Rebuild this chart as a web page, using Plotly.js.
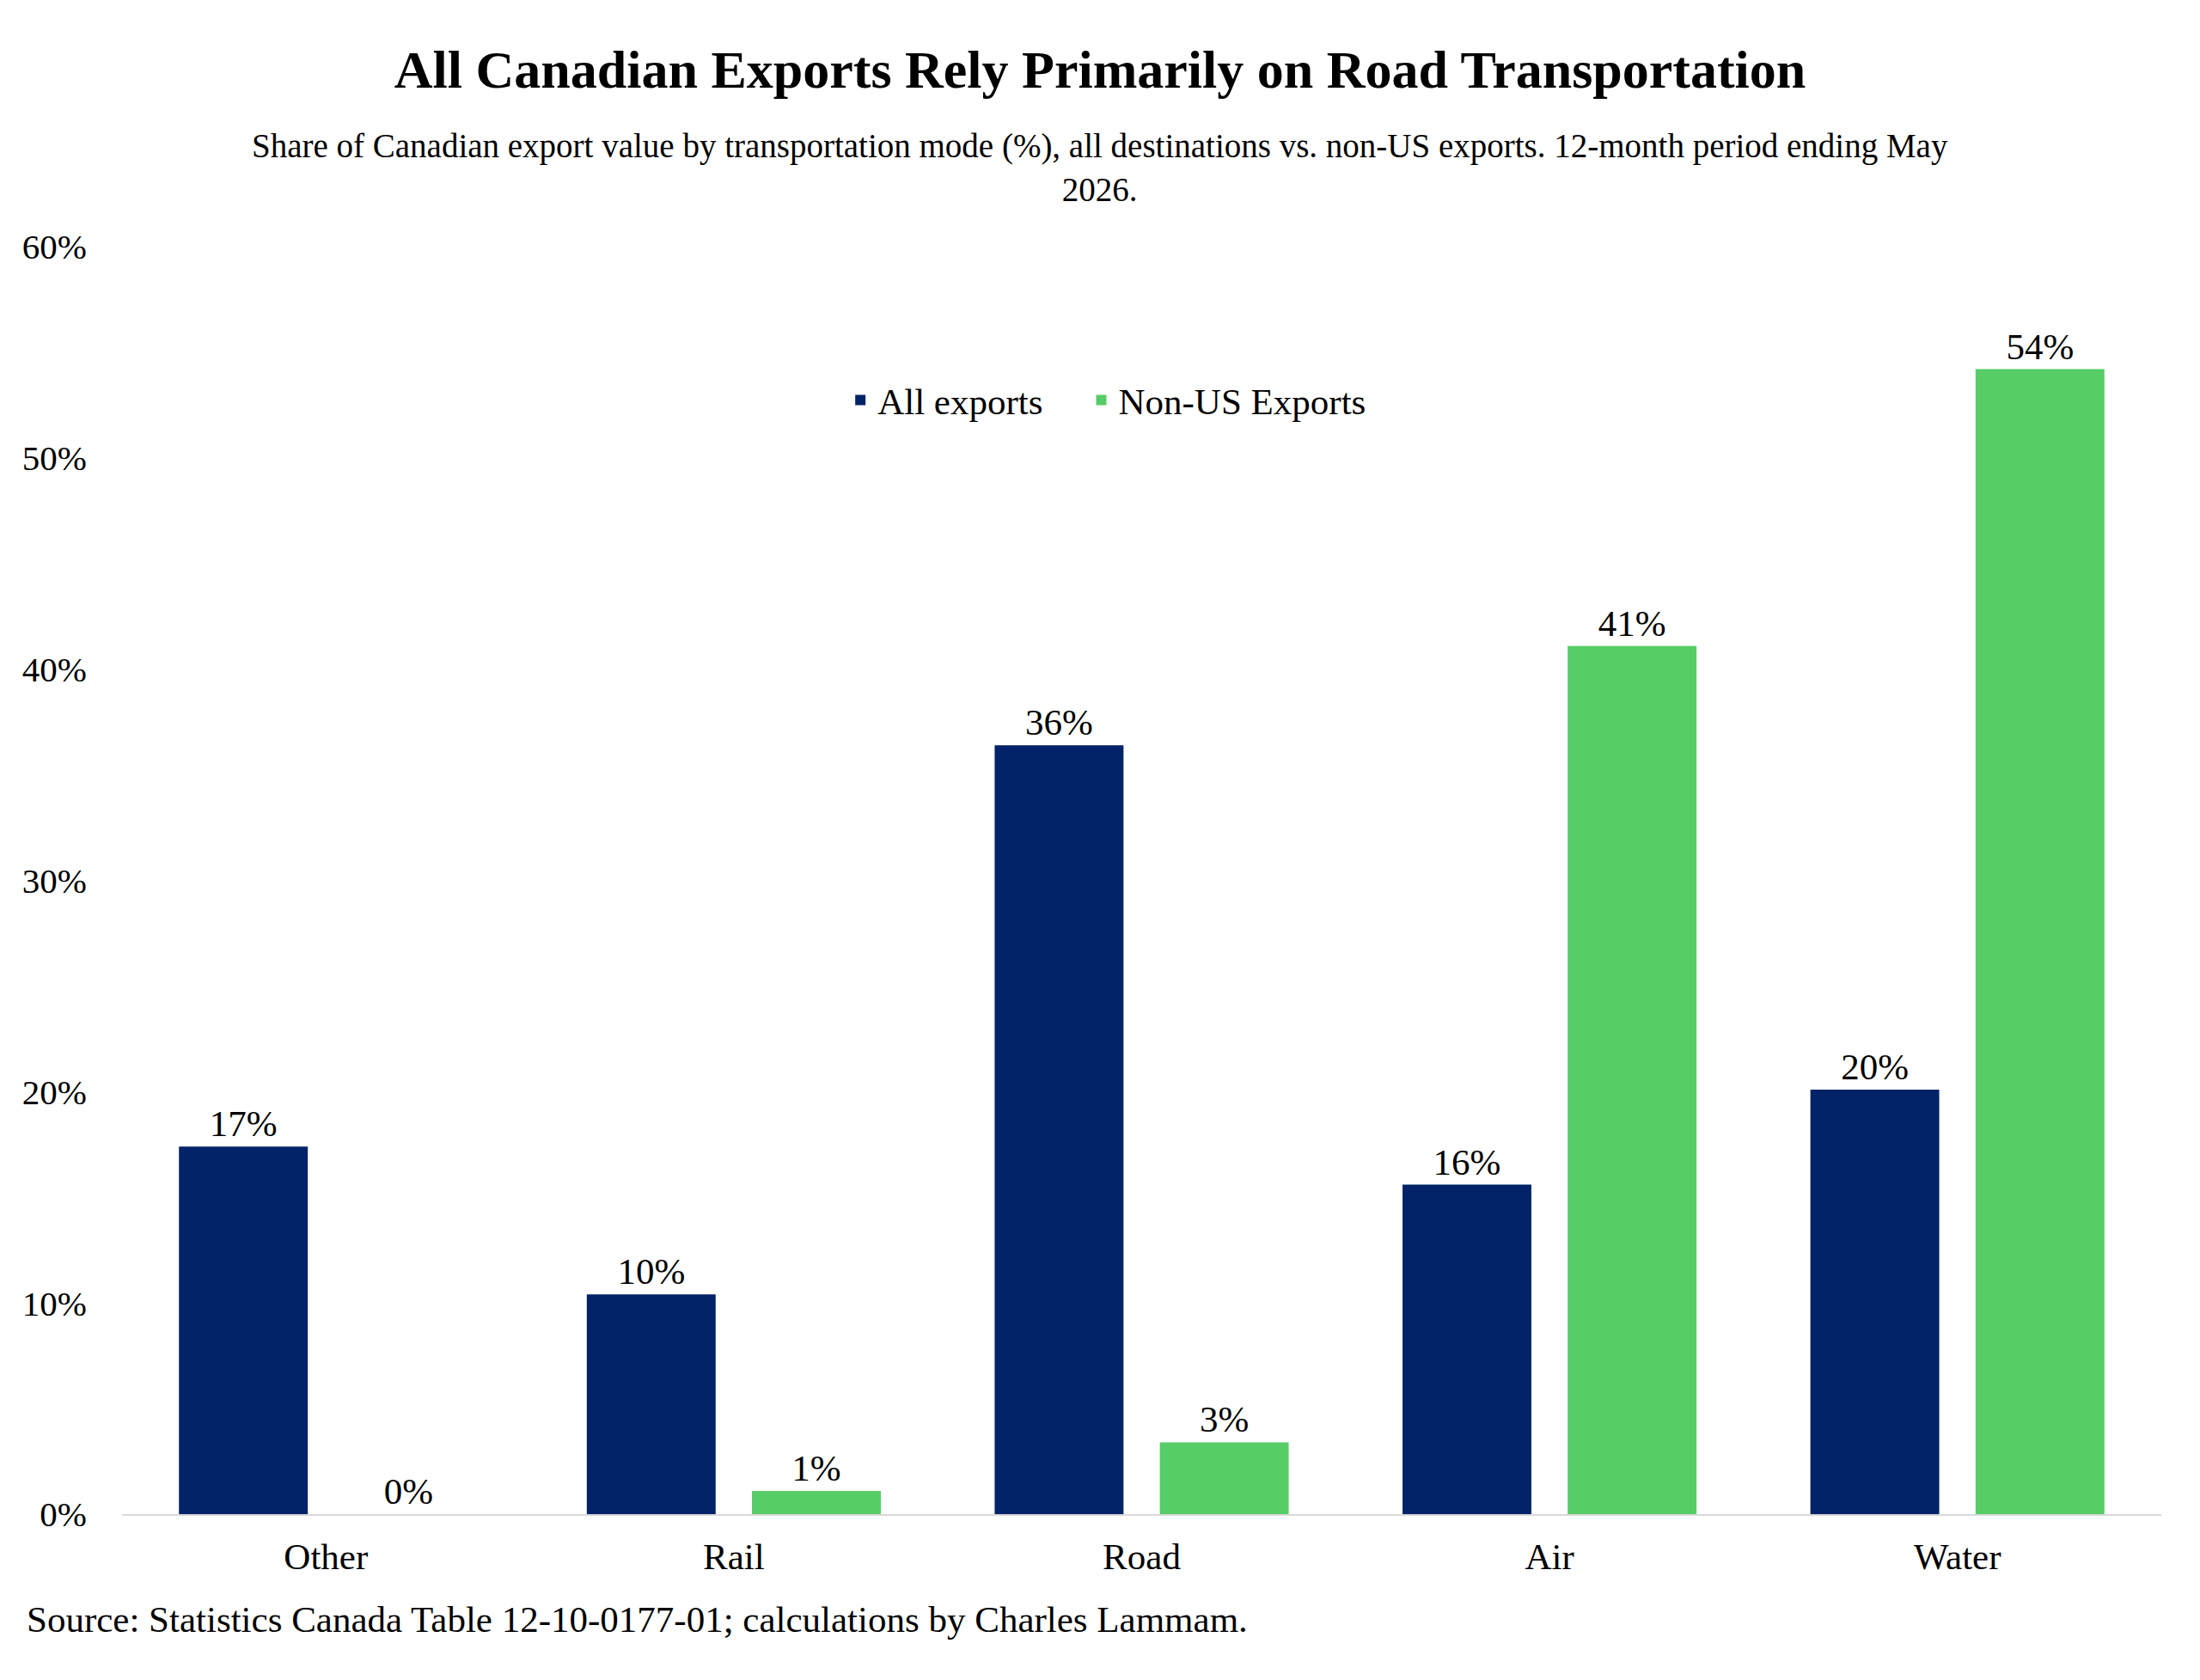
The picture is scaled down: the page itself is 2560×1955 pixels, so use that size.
<!DOCTYPE html>
<html>
<head>
<meta charset="utf-8">
<script src="https://cdn.plot.ly/plotly-3.0.1.min.js"></script>
<style>
  html, body { margin: 0; padding: 0; background: #fff; }
  #chart { width: 2560px; height: 1955px; }
</style>
</head>
<body>
<div id="chart"></div>
<script>
// transportation modes and export shares (%)
const modes = ['Other', 'Rail', 'Road', 'Air', 'Water'];
const allExports = [17.4, 10.4, 36.4, 15.6, 20.1];
const nonUsExports = [0, 1.1, 3.4, 41.1, 54.2];
const yTicks = [0, 10, 20, 30, 40, 50, 60];
const yTickText = yTicks.map(v => v + '%');

const serif = 'Liberation Serif, Times New Roman, serif';
const navy = '#022368';
const green = '#56CD67';

chart = document.getElementById('chart');

Plotly.newPlot(chart, [{
  x: modes,
  y: allExports,
  // trailing nbsp widens the gap to the next legend item
  name: 'All exports\u00a0\u00a0\u00a0\u00a0',
  type: 'bar',
  marker: { color: navy },
  texttemplate: '%{y:.0f}%',
  textposition: 'outside',
  textfont: { family: serif, size: 43, color: '#000' },
  cliponaxis: false
}, {
  x: modes,
  y: nonUsExports,
  name: 'Non-US Exports',
  type: 'bar',
  marker: { color: green },
  texttemplate: '%{y:.0f}%',
  textposition: 'outside',
  textfont: { family: serif, size: 43, color: '#000' },
  cliponaxis: false
}], {
  width: 2560,
  height: 1955,
  margin: { l: 142, r: 45, t: 287, b: 193 },
  paper_bgcolor: '#fff',
  plot_bgcolor: '#fff',
  font: { family: serif, size: 43, color: '#000' },
  barmode: 'group',
  bargap: 0.19,
  bargroupgap: 0.22,
  title: {
    text: '<b>All Canadian Exports Rely Primarily on Road Transportation</b>',
    font: { family: serif, size: 62, color: '#000' },
    x: 0.5,
    xref: 'container',
    y: 1 - 80 / 1955,
    yref: 'container',
    yanchor: 'middle'
  },
  xaxis: {
    showgrid: false,
    showline: true,
    linecolor: '#d9d9d9',
    linewidth: 2,
    ticks: '',
    tickfont: { family: serif, size: 43, color: '#000' },
    ticklabelstandoff: 10
  },
  yaxis: {
    range: [0, 60],
    tickmode: 'array',
    tickvals: yTicks,
    ticktext: yTickText,
    showgrid: false,
    zeroline: false,
    showline: false,
    ticks: '',
    tickfont: { family: serif, size: 41, color: '#000' },
    ticklabelstandoff: 40
  },
  legend: {
    orientation: 'h',
    x: 0.483,
    xanchor: 'center',
    y: 0.879,
    yanchor: 'middle',
    font: { family: serif, size: 43, color: '#000' },
    bgcolor: 'rgba(0,0,0,0)'
  },
  annotations: [{
    text: 'Share of Canadian export value by transportation mode (%), all destinations vs. non-US exports. 12-month period ending May<br>2026.',
    xref: 'paper', yref: 'paper',
    x: (1280 - 142) / 2373,
    y: (1762 - 195) / 1475,
    xanchor: 'center', yanchor: 'middle',
    align: 'center',
    showarrow: false,
    font: { family: serif, size: 39, color: '#000' }
  }, {
    text: 'Source: Statistics Canada Table 12-10-0177-01; calculations by Charles Lammam.',
    xref: 'paper', yref: 'paper',
    x: -113 / 2373,
    y: -(1884 - 1762) / 1475,
    xanchor: 'left', yanchor: 'middle',
    align: 'left',
    showarrow: false,
    font: { family: serif, size: 43, color: '#000' }
  }]
}, { displayModeBar: false });
</script>
</body>
</html>
